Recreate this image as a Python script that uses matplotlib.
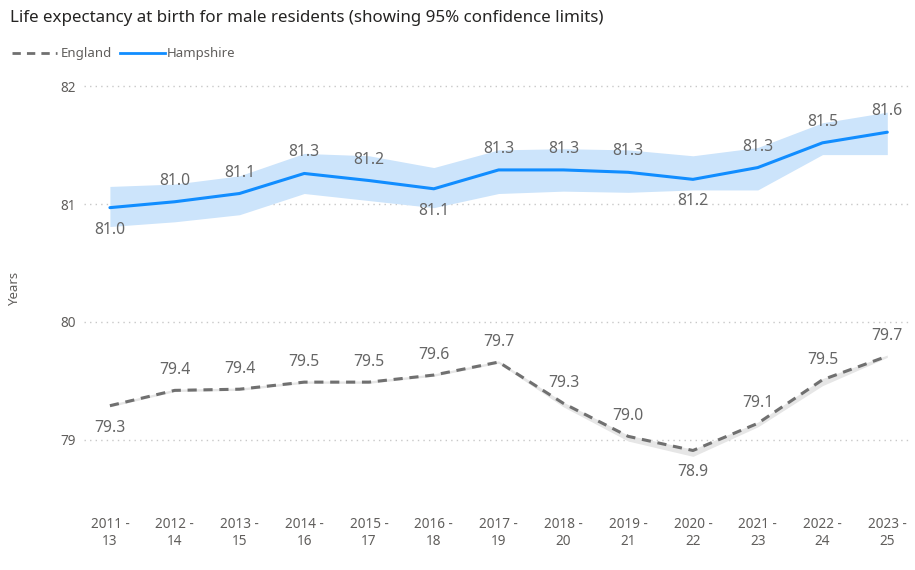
import matplotlib
matplotlib.use("Agg")
import matplotlib.pyplot as plt
from matplotlib.lines import Line2D

periods = ["2011 -\n13", "2012 -\n14", "2013 -\n15", "2014 -\n16", "2015 -\n17", "2016 -\n18",
           "2017 -\n19", "2018 -\n20", "2019 -\n21", "2020 -\n22", "2021 -\n23", "2022 -\n24", "2023 -\n25"]

hamp = [80.97, 81.02, 81.09, 81.26, 81.20, 81.13, 81.29, 81.29, 81.27, 81.21, 81.31, 81.52, 81.61]
hamp_lo = [80.81, 80.85, 80.91, 81.09, 81.03, 80.97, 81.09, 81.11, 81.10, 81.12, 81.12, 81.42, 81.42]
hamp_hi = [81.15, 81.17, 81.24, 81.43, 81.41, 81.31, 81.46, 81.47, 81.46, 81.41, 81.48, 81.69, 81.78]
hamp_labels = ["81.0", "81.0", "81.1", "81.3", "81.2", "81.1", "81.3", "81.3", "81.3", "81.2", "81.3", "81.5", "81.6"]
hamp_pos = ["below", "above", "above", "above", "above", "below", "above", "above", "above", "below", "above", "above", "above"]

eng = [79.29, 79.42, 79.43, 79.49, 79.49, 79.55, 79.66, 79.31, 79.03, 78.91, 79.14, 79.51, 79.71]
eng_lo = [79.28, 79.41, 79.42, 79.48, 79.48, 79.54, 79.65, 79.28, 78.99, 78.86, 79.11, 79.46, 79.70]
eng_hi = [79.30, 79.43, 79.44, 79.50, 79.50, 79.56, 79.67, 79.32, 79.04, 78.92, 79.15, 79.52, 79.72]
eng_labels = ["79.3", "79.4", "79.4", "79.5", "79.5", "79.6", "79.7", "79.3", "79.0", "78.9", "79.1", "79.5", "79.7"]
eng_pos = ["below", "above", "above", "above", "above", "above", "above", "above", "above", "below", "above", "above", "above"]

yticks = [79, 80, 81, 82]

plt.rcParams['font.family'] = ['Noto Sans', 'DejaVu Sans']

fig = plt.figure(figsize=(9.15, 5.7), dpi=100)
ax = fig.add_axes([0.0918, 0.1228, 0.9027, 0.7404])

x = list(range(len(periods)))

ax.fill_between(x, hamp_lo, hamp_hi, color="#CCE4FB", lw=0, zorder=1)
ax.fill_between(x, eng_lo, eng_hi, color="#E6E6E6", lw=0, zorder=1)
ax.plot(x, hamp, color="#118DFF", lw=2.2, zorder=3, solid_capstyle="round")
ax.plot(x, eng, color="#707070", lw=2.2, ls=(0, (3, 2.2)), zorder=3)

for xi, v, lab, pos in zip(x, hamp, hamp_labels, hamp_pos):
    off = 21 if pos == "above" else -22
    ax.annotate(lab, (xi, v), xytext=(0, off * 0.72), textcoords="offset points",
                ha="center", va="center", fontsize=11.3, color="#666666", zorder=4)
for xi, v, lab, pos in zip(x, eng, eng_labels, eng_pos):
    off = 20 if pos == "above" else -22
    ax.annotate(lab, (xi, v), xytext=(0, off * 0.72), textcoords="offset points",
                ha="center", va="center", fontsize=11.3, color="#666666", zorder=4)

ax.set_xlim(-0.4, 12.35)
ax.set_ylim(78.49, 82.07)
ax.set_yticks(yticks)
ax.set_yticklabels([str(t) for t in yticks])
ax.set_xticks(x)
ax.set_xticklabels(periods)
ax.tick_params(axis="both", length=0, colors="#605E5C", labelsize=9.8)
ax.tick_params(axis="x", pad=12)
ax.tick_params(axis="y", pad=6)
for s in ax.spines.values():
    s.set_visible(False)
ax.grid(axis="y", color="#C8C8C8", ls=(0, (1, 3)), lw=1)
ax.set_axisbelow(True)
ax.set_ylabel("Years", color="#605E5C", fontsize=9.5, labelpad=28)

fig.text(10 / 915, 1 - 18 / 570, "Life expectancy at birth for male residents (showing 95% confidence limits)",
         fontsize=12.2, fontweight="semibold", color="#252423", ha="left", va="center")

# legend
ly = 1 - 53 / 570
fig.add_artist(Line2D([12 / 915, 57 / 915], [ly, ly], color="#707070", lw=2, ls=(0, (3, 2.2)),
                      transform=fig.transFigure))
fig.text(61 / 915, ly, "England", fontsize=9.5, color="#605E5C", ha="left", va="center")
fig.add_artist(Line2D([120 / 915, 165 / 915], [ly, ly], color="#118DFF", lw=2,
                      transform=fig.transFigure))
fig.text(167 / 915, ly, "Hampshire", fontsize=9.5, color="#605E5C", ha="left", va="center")

fig.savefig("out.png", dpi=100, facecolor="white")
